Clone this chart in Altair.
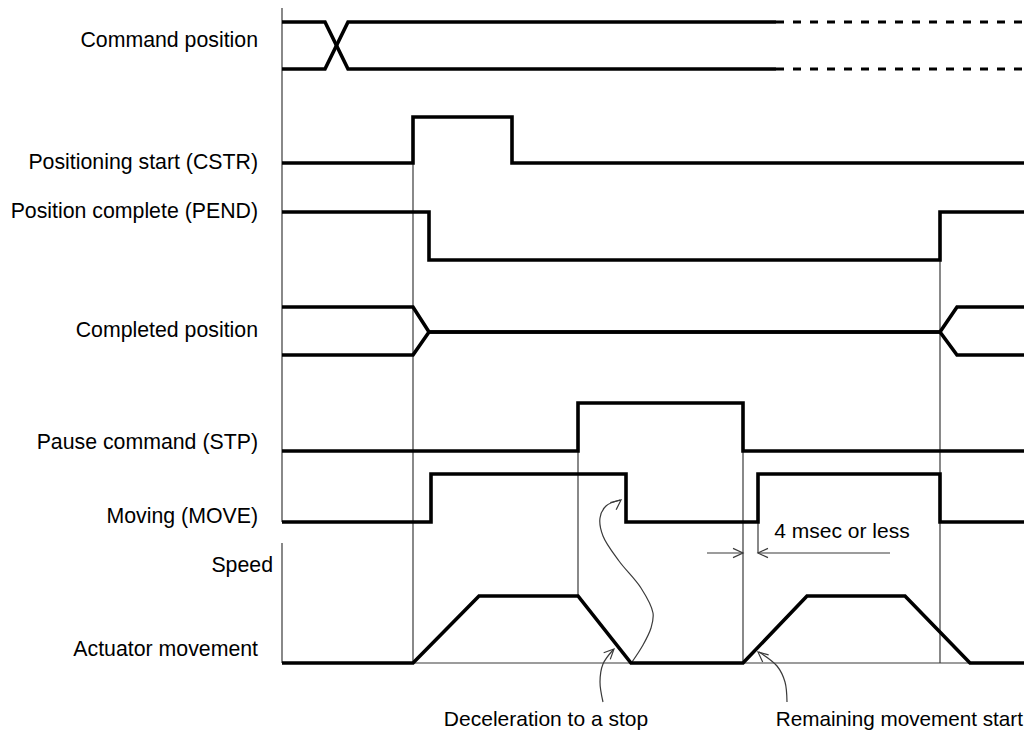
import altair as alt
import pandas as pd
import numpy as np

W, H = 1016, 723          # chart size (page margin is 8px on each side)
OX, OY = 8, 8

# ---------------- data (time axis -> x, signal level -> y) ----------------
t_start, t_end = 282, 1032

cmd_levels = [22, 69]            # upper / lower
cmd_cross = [325, 348]
cmd_known_end = 776

cstr_levels = [117, 163]         # high / low
cstr_edges = [413, 512]          # rise / fall

pend_levels = [212, 260]         # high / low
pend_edges = [429, 940]          # fall / rise

comp_levels = [307, 355]         # upper / lower
comp_mid = 332
comp_join = [413, 429]
comp_split = [940, 957]

stp_levels = [403, 451]          # high / low
stp_edges = [578, 743]           # rise / fall

move_levels = [474, 522]         # high / low
move_edges = [431, 626, 758, 940]

speed_t = [282, 413, 479, 578, 631, 743, 807, 905, 970, 1032]
speed_v = [663, 663, 596, 596, 663, 663, 596, 596, 663, 663]
speed_zero = 663
speed_axis_top = 543
signal_axis = [6, 522]

guide_x = [413, 578, 743, 758, 940]
guide_y1 = [163, 451, 451, 522, 260]
guide_y2 = [663, 596, 663, 553, 663]

dim_y = 553
dim_left = [707, 743]
dim_right = [890, 758]

curve1_x = [632, 643, 651, 653, 641, 619, 603, 600, 606, 620]
curve1_y = [662, 645, 628, 613, 588, 561, 536, 518, 506, 500]
curve2_x = [603, 600, 603, 613]
curve2_y = [702, 682, 664, 650]
curve3_x = [787, 785, 777, 759]
curve3_y = [702, 682, 666, 652]

head_tip = [(621, 500), (614, 649), (758, 652), (743, 553), (758, 553)]
head_from = [(601, 516), (601, 662), (770, 662), (707, 553), (890, 553)]

labels = ["Command position", "Positioning start (CSTR)", "Position complete (PEND)",
          "Completed position", "Pause command (STP)", "Moving (MOVE)",
          "Actuator movement"]
label_y = [41, 163, 212, 331, 443, 517, 650]
label_right = 258
speed_label = "Speed"
speed_label_pos = (273, 566)

notes = ["4 msec or less", "Deceleration to a stop", "Remaining movement start"]
note_x = [842, 546, 1023]
note_y = [532, 720, 720]
note_align = ["center", "center", "right"]

# ---------------- build geometry tables ----------------
rows_thick, rows_dash, rows_thin, rows_curve = [], [], [], []


def add(rows, g, xs, ys):
    for i, (x, y) in enumerate(zip(xs, ys)):
        rows.append({"x": x, "y": y, "g": g, "o": i})


def step(start, end, edges, hi, lo, start_high):
    xs, ys = [start], [hi if start_high else lo]
    cur = start_high
    for e in edges:
        xs += [e, e]
        ys += [hi if cur else lo, lo if cur else hi]
        cur = not cur
    xs.append(end)
    ys.append(hi if cur else lo)
    return xs, ys


up, lo = cmd_levels
add(rows_thick, "cmd1", [t_start, cmd_cross[0], cmd_cross[1], cmd_known_end], [up, up, lo, lo])
add(rows_thick, "cmd2", [t_start, cmd_cross[0], cmd_cross[1], cmd_known_end], [lo, lo, up, up])
add(rows_dash, "cmd1d", [cmd_known_end, t_end], [up, up])
add(rows_dash, "cmd2d", [cmd_known_end, t_end], [lo, lo])

add(rows_thick, "cstr", *step(t_start, t_end, cstr_edges, *cstr_levels, False))
add(rows_thick, "pend", *step(t_start, t_end, pend_edges, *pend_levels, True))
add(rows_thick, "stp", *step(t_start, t_end, stp_edges, *stp_levels, False))
add(rows_thick, "move", *step(t_start, t_end, move_edges, *move_levels, False))

cu, cl = comp_levels
add(rows_thick, "comp1", [t_start, comp_join[0], comp_join[1], comp_split[0], comp_split[1], t_end],
    [cu, cu, comp_mid, comp_mid, cu, cu])
add(rows_thick, "comp2", [t_start, comp_join[0], comp_join[1], comp_split[0], comp_split[1], t_end],
    [cl, cl, comp_mid, comp_mid, cl, cl])
add(rows_thick, "speed", speed_t, speed_v)

add(rows_thin, "axis1", [t_start, t_start], signal_axis)
add(rows_thin, "axis2", [t_start, t_start], [speed_axis_top, speed_zero])
add(rows_thin, "base", [t_start, t_end], [speed_zero, speed_zero])
for i, (gx, a, b) in enumerate(zip(guide_x, guide_y1, guide_y2)):
    add(rows_thin, f"guide{i}", [gx, gx], [a, b])
add(rows_thin, "dimL", dim_left, [dim_y, dim_y])
add(rows_thin, "dimR", dim_right, [dim_y, dim_y])


def head(tip, frm, L=11.0, ang=25.0):
    t = np.array(tip, float)
    d = t - np.array(frm, float)
    d /= np.linalg.norm(d)
    b = -d
    pts = []
    for s in (1, -1):
        a = np.deg2rad(ang * s)
        r = np.array([b[0] * np.cos(a) - b[1] * np.sin(a), b[0] * np.sin(a) + b[1] * np.cos(a)])
        pts.append(t + L * r)
    return [pts[0][0], t[0], pts[1][0]], [pts[0][1], t[1], pts[1][1]]


for i, (tp, fr) in enumerate(zip(head_tip, head_from)):
    add(rows_thin, f"head{i}", *head(tp, fr))

add(rows_curve, "c1", curve1_x, curve1_y)
add(rows_curve, "c2", curve2_x, curve2_y)
add(rows_curve, "c3", curve3_x, curve3_y)

df_thick = pd.DataFrame(rows_thick)
df_dash = pd.DataFrame(rows_dash)
df_thin = pd.DataFrame(rows_thin)
df_curve = pd.DataFrame(rows_curve)

xs = alt.Scale(domain=[OX, OX + W], nice=False, zero=False)
ys = alt.Scale(domain=[OY, OY + H], nice=False, zero=False, reverse=True)


def enc(ch):
    return ch.encode(
        x=alt.X("x:Q", scale=xs, axis=None),
        y=alt.Y("y:Q", scale=ys, axis=None),
        detail="g:N",
        order="o:Q",
    )


thin = enc(alt.Chart(df_thin).mark_line(color="#3a3a3a", strokeWidth=1.2))
curves = enc(alt.Chart(df_curve).mark_line(color="#3a3a3a", strokeWidth=1.2, interpolate="catmull-rom"))
thick = enc(alt.Chart(df_thick).mark_line(color="black", strokeWidth=3.6, strokeJoin="miter"))
dash = enc(alt.Chart(df_dash).mark_line(color="black", strokeWidth=3, strokeDash=[8, 9]))

df_labels = pd.DataFrame({"x": [label_right] * len(labels), "y": label_y, "t": labels})
df_speed = pd.DataFrame({"x": [speed_label_pos[0]], "y": [speed_label_pos[1]], "t": [speed_label]})
df_notes = pd.DataFrame({"x": note_x, "y": note_y, "t": notes, "a": note_align})

font = "Liberation Sans"
pos = dict(x=alt.X("x:Q", scale=xs, axis=None), y=alt.Y("y:Q", scale=ys, axis=None), text="t:N")
txt_l = alt.Chart(df_labels).mark_text(align="right", baseline="middle", font=font, fontSize=21.3,
                                      color="black").encode(**pos)
txt_s = alt.Chart(df_speed).mark_text(align="right", baseline="middle", font=font, fontSize=21.3,
                                     color="black").encode(**pos)
txt_nc = alt.Chart(df_notes[df_notes.a == "center"]).mark_text(
    align="center", baseline="middle", font=font, fontSize=21, color="black").encode(**pos)
txt_nr = alt.Chart(df_notes[df_notes.a == "right"]).mark_text(
    align="right", baseline="middle", font=font, fontSize=20.7, color="black").encode(**pos)

chart = alt.layer(thin, curves, thick, dash, txt_l, txt_s, txt_nc, txt_nr).properties(
    width=W, height=H, padding=0, autosize=alt.AutoSizeParams(type="none"), background="white"
).configure_view(stroke=None)

chart.save("out.html", embed_options={"renderer": "svg", "actions": False})
